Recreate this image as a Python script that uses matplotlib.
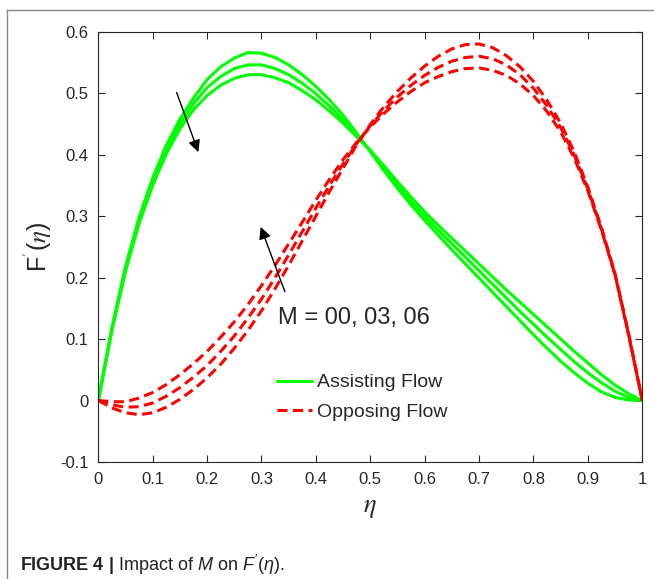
import matplotlib
matplotlib.use("Agg")
import matplotlib.pyplot as plt
from matplotlib.lines import Line2D

# similarity variable
eta = [0, 0.025, 0.05, 0.075, 0.1, 0.125, 0.15, 0.175, 0.2, 0.225,
       0.25, 0.275, 0.3, 0.325, 0.35, 0.375, 0.4, 0.425, 0.45, 0.475,
       0.5, 0.525, 0.55, 0.575, 0.6, 0.625, 0.65, 0.675, 0.7, 0.725,
       0.75, 0.775, 0.8, 0.825, 0.85, 0.875, 0.9, 0.925, 0.95, 0.975, 1.0]

# F'(eta), assisting flow, M = 0, 3, 6
assist_m00 = [0, 0.118, 0.218, 0.298, 0.362, 0.415, 0.458, 0.492, 0.522, 0.543,
              0.557, 0.566, 0.565, 0.558, 0.546, 0.530, 0.511, 0.489, 0.464, 0.435,
              0.405, 0.374, 0.345, 0.318, 0.293, 0.269, 0.245, 0.222, 0.199, 0.176,
              0.153, 0.130, 0.107, 0.085, 0.064, 0.045, 0.028, 0.014, 0.005, 0.0008, 0]
assist_m03 = [0, 0.116, 0.214, 0.293, 0.356, 0.408, 0.450, 0.483, 0.509, 0.527,
              0.540, 0.546, 0.546, 0.540, 0.530, 0.516, 0.499, 0.479, 0.457, 0.432,
              0.406, 0.378, 0.350, 0.324, 0.300, 0.277, 0.255, 0.233, 0.211, 0.189,
              0.167, 0.145, 0.124, 0.103, 0.083, 0.063, 0.045, 0.029, 0.015, 0.005, 0]
assist_m06 = [0, 0.114, 0.210, 0.288, 0.350, 0.401, 0.442, 0.473, 0.496, 0.513,
              0.524, 0.530, 0.530, 0.525, 0.517, 0.504, 0.489, 0.471, 0.451, 0.429,
              0.407, 0.382, 0.356, 0.331, 0.307, 0.285, 0.264, 0.243, 0.222, 0.201,
              0.180, 0.160, 0.140, 0.120, 0.100, 0.080, 0.061, 0.042, 0.025, 0.011, 0]

# F'(eta), opposing flow, M = 0, 3, 6
oppose_m00 = [0, -0.012, -0.020, -0.023, -0.020, -0.011, 0.002, 0.018, 0.037, 0.059,
              0.085, 0.114, 0.146, 0.182, 0.220, 0.260, 0.300, 0.340, 0.378, 0.416,
              0.449, 0.478, 0.503, 0.525, 0.544, 0.560, 0.572, 0.579, 0.580, 0.574,
              0.561, 0.543, 0.519, 0.488, 0.451, 0.404, 0.347, 0.281, 0.206, 0.108, 0]
oppose_m03 = [0, -0.007, -0.011, -0.010, -0.004, 0.007, 0.021, 0.038, 0.057, 0.080,
              0.105, 0.134, 0.165, 0.200, 0.237, 0.275, 0.313, 0.350, 0.385, 0.418,
              0.447, 0.472, 0.494, 0.513, 0.529, 0.542, 0.552, 0.558, 0.560, 0.556,
              0.546, 0.530, 0.508, 0.479, 0.444, 0.399, 0.344, 0.279, 0.205, 0.107, 0]
oppose_m06 = [0, -0.002, -0.002, 0.004, 0.013, 0.026, 0.042, 0.060, 0.080, 0.103,
              0.128, 0.156, 0.187, 0.220, 0.255, 0.290, 0.326, 0.360, 0.392, 0.420,
              0.445, 0.467, 0.486, 0.503, 0.517, 0.527, 0.535, 0.540, 0.541, 0.537,
              0.529, 0.515, 0.496, 0.470, 0.437, 0.394, 0.341, 0.277, 0.204, 0.106, 0]

xticks = [0, 0.1, 0.2, 0.3, 0.4, 0.5, 0.6, 0.7, 0.8, 0.9, 1.0]
xtick_labels = ["0", "0.1", "0.2", "0.3", "0.4", "0.5", "0.6", "0.7", "0.8", "0.9", "1"]
yticks = [-0.1, 0, 0.1, 0.2, 0.3, 0.4, 0.5, 0.6]
ytick_labels = ["-0.1", "0", "0.1", "0.2", "0.3", "0.4", "0.5", "0.6"]

legend_labels = ["Assisting Flow", "Opposing Flow"]
annotation_text = "M = 00, 03, 06"

plt.rcParams['font.family'] = ['Liberation Sans', 'DejaVu Sans']
plt.rcParams['mathtext.fontset'] = 'custom'
plt.rcParams['mathtext.rm'] = 'Liberation Sans'
plt.rcParams['mathtext.it'] = 'Liberation Sans:italic'
plt.rcParams['mathtext.bf'] = 'Liberation Sans:bold'

axis_color = '#262626'
green = '#00ff00'
red = '#ff0000'

fig = plt.figure(figsize=(6.54, 5.79), dpi=100)
ax = fig.add_axes([0.1503, 0.2021, 0.8318, 0.7432])

lw = 2.2
for i, ys in enumerate([assist_m00, assist_m03, assist_m06]):
    ax.plot(eta, ys, color=green, lw=lw, solid_capstyle='round',
            label=legend_labels[0] if i == 0 else None)
for i, ys in enumerate([oppose_m00, oppose_m03, oppose_m06]):
    ax.plot(eta, ys, color=red, lw=lw, linestyle=(0, (3.3, 1.8)),
            label=legend_labels[1] if i == 0 else None)

ax.set_xlim(0, 1)
ax.set_ylim(-0.1, 0.6)
ax.set_xticks(xticks, xtick_labels)
ax.set_yticks(yticks, ytick_labels)
ax.tick_params(direction='in', top=True, right=True, length=5, width=0.8,
               colors=axis_color, labelsize=12, pad=7)
for sp in ax.spines.values():
    sp.set_color(axis_color)
    sp.set_linewidth(0.8)

ax.set_xlabel(r"$\eta$", fontsize=19, math_fontfamily='stix', labelpad=7,
              color=axis_color)
ax.set_ylabel(r"F$^{'}$($\eta$)", fontsize=18, math_fontfamily='stix',
              labelpad=4, color=axis_color)

# arrows showing the direction of increasing M
ax.annotate("", xy=(0.184, 0.404), xytext=(0.144, 0.501),
            arrowprops=dict(arrowstyle='-|>', color='black', lw=1.0,
                            mutation_scale=18, shrinkA=0, shrinkB=0))
ax.annotate("", xy=(0.2985, 0.2825), xytext=(0.343, 0.177),
            arrowprops=dict(arrowstyle='-|>', color='black', lw=1.0,
                            mutation_scale=18, shrinkA=0, shrinkB=0))
ax.text(0.33, 0.135, annotation_text, fontsize=17, color=axis_color,
        ha='left', va='center')

leg = ax.legend(loc='upper left', bbox_to_anchor=(0.3285, 0.205),
                frameon=False, fontsize=14, handlelength=1.8,
                handletextpad=0.25, labelspacing=0.6, borderpad=0,
                borderaxespad=0)
for t in leg.get_texts():
    t.set_color(axis_color)

# page frame
fig.add_artist(Line2D([7 / 654, 7 / 654], [0, 1 - 10 / 579],
                      transform=fig.transFigure, color='#888888', lw=1.0))
fig.add_artist(Line2D([7 / 654, 1], [1 - 10 / 579, 1 - 10 / 579],
                      transform=fig.transFigure, color='#888888', lw=1.0))

fig.text(20 / 654, 1 - 565 / 579,
         r"$\mathbf{FIGURE\ 4\ |}$ Impact of $M$ on $F'(\eta)$.",
         fontsize=13, color='#222222', ha='left', va='center',
         math_fontfamily='custom')

fig.savefig("out.png", dpi=100)
